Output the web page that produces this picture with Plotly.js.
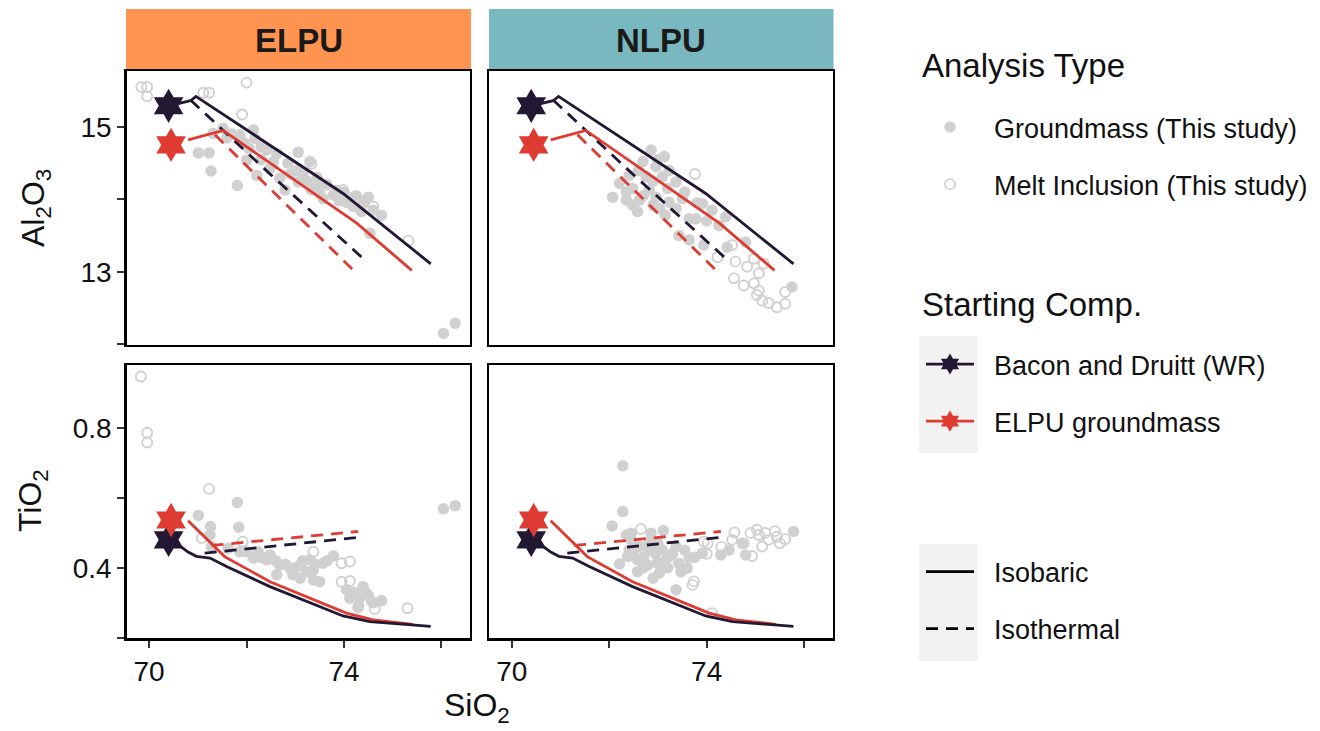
<!DOCTYPE html>
<html>
<head>
<meta charset="utf-8">
<script src="https://cdn.plot.ly/plotly-3.0.1.min.js"></script>
<style>html,body{margin:0;padding:0;background:#fff;}#chart{width:1320px;height:731px;}</style>
</head>
<body>
<div id="chart"></div>
<script>
// ---------------- DATA ----------------
const facets = ["ELPU", "NLPU"];
const seriesNames = ["Groundmass (This study)", "Melt Inclusion (This study)"];
const startNames = ["Bacon and Druitt (WR)", "ELPU groundmass"];
const pathNames = ["Isobaric", "Isothermal"];
const legendTitles = ["Analysis Type", "Starting Comp."];

// ELPU panel, Al2O3 vs SiO2
const elpuGmAlSiO2 = [71.01,71.23,71.27,71.81,71.31,71.52,71.86,72.14,72.17,72.41,72.00,72.21,72.48,72.62,72.68,72.79,73.06,73.30,73.03,73.23,73.33,73.06,73.50,73.78,73.57,74.05,74.19,74.36,74.50,74.60,74.77,74.53,76.04,76.28,71.70,71.95,72.30,72.90,73.45,73.90,74.40,74.25,72.30,72.55,72.85,73.15,73.45,73.65,73.85,74.00,74.15,74.30,72.05,71.60];
const elpuGmAl = [14.64,14.64,14.39,14.19,14.91,14.98,14.89,14.96,14.84,14.68,14.54,14.33,14.43,14.63,14.29,14.13,14.65,14.52,14.40,14.26,14.13,14.24,14.08,14.06,14.01,13.96,13.90,13.83,14.03,13.85,13.78,13.53,12.15,12.29,14.90,14.78,14.55,14.35,14.30,13.98,13.95,14.05,14.72,14.52,14.50,14.35,14.18,14.20,14.12,14.10,14.02,13.88,14.70,14.85];
const elpuMiAlSiO2 = [69.84,69.96,69.96,72.00,71.11,71.23,71.91,73.33,73.44,73.98,74.29,74.60,75.32];
const elpuMiAl = [15.55,15.55,15.42,15.61,15.47,15.47,15.17,14.49,14.19,14.13,13.99,13.90,13.43];

// ELPU panel, TiO2 vs SiO2
const elpuGmTiSiO2 = [71.81,71.01,71.26,71.84,71.25,71.28,71.62,71.86,72.14,72.41,72.68,72.89,72.62,73.10,73.30,73.37,73.57,73.78,73.23,73.50,73.37,74.05,74.39,74.46,74.32,74.57,74.77,74.12,72.24,72.48,72.00,76.04,76.28,72.30,72.60,72.80,73.00,73.15,73.40,73.65,72.95,73.10,74.20,74.50,74.30,74.60];
const elpuGmTi = [0.587,0.550,0.518,0.516,0.494,0.461,0.456,0.446,0.428,0.423,0.408,0.399,0.380,0.408,0.423,0.394,0.413,0.434,0.389,0.360,0.365,0.337,0.346,0.327,0.313,0.303,0.306,0.313,0.446,0.437,0.446,0.569,0.578,0.430,0.420,0.410,0.400,0.420,0.410,0.420,0.380,0.370,0.330,0.320,0.290,0.300];
const elpuMiTiSiO2 = [69.83,69.96,69.96,71.23,71.08,71.92,73.37,73.95,74.12,73.95,74.12,74.29,74.63,75.30];
const elpuMiTi = [0.948,0.787,0.759,0.626,0.485,0.475,0.446,0.413,0.418,0.360,0.362,0.286,0.282,0.284];

// NLPU panel, Al2O3 vs SiO2
const nlpuGmAlSiO2 = [72.86,73.13,72.69,72.96,73.23,72.41,72.76,73.09,73.37,72.21,72.48,72.82,72.07,72.35,72.62,72.96,73.23,73.50,72.48,72.58,73.03,73.37,73.64,73.78,73.91,74.11,74.39,74.25,73.43,73.64,73.94,74.42,74.80,75.75,72.90,73.00,72.60,73.20,72.70,72.90,73.15,72.35,73.55,73.80,74.00];
const nlpuGmAl = [14.68,14.59,14.52,14.45,14.40,14.33,14.31,14.31,14.24,14.22,14.15,14.13,14.03,13.99,13.99,14.03,13.96,14.01,13.92,13.83,13.87,13.87,13.73,13.73,13.94,13.85,13.76,13.64,13.50,13.44,13.37,13.34,13.41,12.79,14.25,14.55,14.40,14.15,14.05,13.92,13.78,14.10,14.10,13.95,13.70];
const nlpuMiAlSiO2 = [73.76,74.52,74.59,74.83,74.97,75.07,74.56,74.76,74.97,75.07,75.03,75.14,75.27,75.44,75.61,75.61,74.22,75.17];
const nlpuMiAl = [14.35,13.37,13.14,13.07,13.18,12.98,12.91,12.81,12.84,12.74,12.68,12.60,12.57,12.51,12.56,12.72,13.20,13.11];

// NLPU panel, TiO2 vs SiO2
const nlpuGmTiSiO2 = [72.28,72.28,72.06,72.35,72.45,72.86,73.11,72.21,72.38,72.58,72.58,72.79,72.99,73.03,73.23,73.43,73.47,73.60,73.64,72.82,73.09,73.37,72.62,72.82,72.41,73.37,73.91,74.29,74.46,74.80,74.73,75.78,72.50,72.70,72.95,73.15,73.30,72.70,72.90,73.20,72.45,73.00,73.55,73.75];
const nlpuGmTi = [0.692,0.561,0.520,0.494,0.499,0.499,0.507,0.411,0.432,0.423,0.389,0.408,0.413,0.385,0.432,0.413,0.389,0.399,0.428,0.451,0.451,0.461,0.461,0.475,0.451,0.337,0.442,0.437,0.451,0.437,0.470,0.504,0.440,0.430,0.440,0.420,0.440,0.400,0.370,0.400,0.480,0.470,0.450,0.430];
const nlpuMiTiSiO2 = [72.65,74.57,75.03,75.07,75.27,75.14,75.44,75.61,74.93,73.94,73.71,73.74,74.11,74.76,74.52,74.02,75.40,74.30,74.90,75.20,75.50,74.00];
const nlpuMiTi = [0.511,0.501,0.509,0.494,0.480,0.461,0.489,0.482,0.434,0.475,0.351,0.361,0.270,0.470,0.480,0.470,0.505,0.460,0.500,0.500,0.470,0.440];

// Starting compositions
const bdStartSiO2 = [70.40];  const bdStartAl = [15.29];  const bdStartTi = [0.480];
const gmStartSiO2 = [70.45];  const gmStartAl = [14.75];  const gmStartTi = [0.537];

// Model paths (same in both facets)
const bdIsobaricAlSiO2 = [70.40,70.85,70.96,73.98,75.78];
const bdIsobaricAl     = [15.29,15.36,15.42,14.08,13.11];
const bdIsothermAlSiO2 = [70.85,72.48,74.43];
const bdIsothermAl     = [15.37,14.35,13.16];
const gmIsobaricAlSiO2 = [70.80,71.52,74.26,75.39];
const gmIsobaricAl     = [14.82,14.95,13.67,13.02];
const gmIsothermAlSiO2 = [71.35,74.05,74.27];
const gmIsothermAl     = [14.89,13.12,12.97];

const bdIsobaricTiSiO2 = [70.40,70.60,70.80,70.97,71.25,71.59,72.48,73.98,74.53,75.78];
const bdIsobaricTi     = [0.480,0.466,0.445,0.433,0.428,0.404,0.346,0.262,0.246,0.232];
const bdIsothermTiSiO2 = [71.14,74.36];
const bdIsothermTi     = [0.442,0.488];
const gmIsobaricTiSiO2 = [70.80,71.31,71.55,72.48,74.05,74.60,75.42];
const gmIsobaricTi     = [0.535,0.466,0.432,0.360,0.270,0.251,0.238];
const gmIsothermTiSiO2 = [71.28,74.29];
const gmIsothermTi     = [0.464,0.504];

// labelled ticks, plus unlabelled minor tick spacing
const xTickVals = [70,74];       const xTickText = ["70","74"];       const xMinorStep = 2;   const xMinorStart = 70;
const alTickVals = [13,15];      const alTickText = ["13","15"];      const alMinorStep = 1;  const alMinorStart = 12;
const tiTickVals = [0.4,0.8];    const tiTickText = ["0.4","0.8"];    const tiMinorStep = 0.2; const tiMinorStart = 0.2;

// ---------------- STYLE ----------------
const FONT = "Liberation Sans, Arial, Helvetica, sans-serif";
const GREY = "#D0D0D0";
const DARK = "#221833";
const RED = "#DE3B32";
const W = 1320, H = 731;
const px = v => v / W, py = v => 1 - v / H;
const LW = 2.8;
const PAD = "\u00a0\u00a0";

const xDomL = [px(126.7), px(470)], xDomR = [px(489.3), px(832.7)];
const yDomT = [py(345), py(71)], yDomB = [py(638.3), py(365)];

const traces = [];
const panels = [
  {xa:"x",  ya:"y",  gx:elpuGmAlSiO2, gy:elpuGmAl, mx:elpuMiAlSiO2, my:elpuMiAl, v:"Al"},
  {xa:"x2", ya:"y2", gx:nlpuGmAlSiO2, gy:nlpuGmAl, mx:nlpuMiAlSiO2, my:nlpuMiAl, v:"Al"},
  {xa:"x3", ya:"y3", gx:elpuGmTiSiO2, gy:elpuGmTi, mx:elpuMiTiSiO2, my:elpuMiTi, v:"Ti"},
  {xa:"x4", ya:"y4", gx:nlpuGmTiSiO2, gy:nlpuGmTi, mx:nlpuMiTiSiO2, my:nlpuMiTi, v:"Ti"}
];
panels.forEach((p, i) => {
  traces.push({type:"scatter", mode:"markers", x:p.gx, y:p.gy, xaxis:p.xa, yaxis:p.ya,
    marker:{color:GREY, size:11.5, line:{width:0}}, name:PAD + seriesNames[0], legend:"legend",
    legendgroup:"gm", showlegend:i===0, hoverinfo:"skip"});
  traces.push({type:"scatter", mode:"markers", x:p.mx, y:p.my, xaxis:p.xa, yaxis:p.ya,
    marker:{color:GREY, size:10, symbol:"circle-open", line:{width:1.9, color:GREY}}, name:PAD + seriesNames[1], legend:"legend",
    legendgroup:"mi", showlegend:i===0, hoverinfo:"skip"});
});
const dashPat = "12px,8px";
panels.forEach((p, i) => {
  const al = p.v === "Al";
  const lines = [
    {x: al?bdIsothermAlSiO2:bdIsothermTiSiO2, y: al?bdIsothermAl:bdIsothermTi, c:DARK, d:dashPat},
    {x: al?gmIsothermAlSiO2:gmIsothermTiSiO2, y: al?gmIsothermAl:gmIsothermTi, c:RED, d:dashPat},
    {x: al?gmIsobaricAlSiO2:gmIsobaricTiSiO2, y: al?gmIsobaricAl:gmIsobaricTi, c:RED, d:"solid"},
    {x: al?bdIsobaricAlSiO2:bdIsobaricTiSiO2, y: al?bdIsobaricAl:bdIsobaricTi, c:DARK, d:"solid"}
  ];
  lines.forEach(l => traces.push({type:"scatter", mode:"lines", x:l.x, y:l.y, xaxis:p.xa, yaxis:p.ya,
    line:{color:l.c, width:LW, dash:l.d}, showlegend:false, hoverinfo:"skip"}));
});
panels.forEach((p, i) => {
  const al = p.v === "Al";
  traces.push({type:"scatter", mode:"lines+markers", x:bdStartSiO2, y: al?bdStartAl:bdStartTi, xaxis:p.xa, yaxis:p.ya,
    marker:{symbol:"hexagram", size:26, color:DARK, line:{width:0}}, line:{color:DARK, width:LW},
    name:PAD + startNames[0], legend:"legend2", legendgroup:"bd", showlegend:i===0, hoverinfo:"skip"});
  traces.push({type:"scatter", mode:"lines+markers", x:gmStartSiO2, y: al?gmStartAl:gmStartTi, xaxis:p.xa, yaxis:p.ya,
    marker:{symbol:"hexagram", size:26, color:RED, line:{width:0}}, line:{color:RED, width:LW},
    name:PAD + startNames[1], legend:"legend2", legendgroup:"egm", showlegend:i===0, hoverinfo:"skip"});
});
traces.push({type:"scatter", mode:"lines", x:[null], y:[null], line:{color:"#000", width:LW, dash:"solid"},
  name:PAD + pathNames[0], legend:"legend3", legendgroup:"isob", hoverinfo:"skip"});
traces.push({type:"scatter", mode:"lines", x:[null], y:[null], line:{color:"#000", width:LW, dash:dashPat},
  name:PAD + pathNames[1], legend:"legend3", legendgroup:"isot", hoverinfo:"skip"});

function xax(dom, anchor, bottom) {
  return {domain:dom, anchor:anchor, range:[69.54, 76.585], showgrid:false, zeroline:false,
    showline:true, mirror:true, linecolor:"#000", linewidth:2.4,
    tickmode:"array", tickvals:xTickVals, ticktext:xTickText,
    ticks: bottom ? "outside" : "", ticklen:7, tickwidth:2, tickcolor:"#333",
    minor: bottom ? {ticks:"outside", tick0:xMinorStart, dtick:xMinorStep, ticklen:7, tickwidth:2, tickcolor:"#333", showgrid:false} : {ticks:""},
    showticklabels:bottom, tickfont:{family:FONT, size:28, color:"#111"}};
}
function yax(dom, anchor, left, isAl) {
  return {domain:dom, anchor:anchor, range: isAl ? [11.99, 15.77] : [0.198, 0.981], showgrid:false, zeroline:false,
    showline:true, mirror:true, linecolor:"#000", linewidth:2.4,
    tickmode:"array", tickvals: isAl ? alTickVals : tiTickVals, ticktext: isAl ? alTickText : tiTickText,
    ticks: left ? "outside" : "", ticklen:7, tickwidth:2, tickcolor:"#333",
    minor: left ? {ticks:"outside", tick0: isAl ? alMinorStart : tiMinorStart, dtick: isAl ? alMinorStep : tiMinorStep,
      ticklen:7, tickwidth:2, tickcolor:"#333", showgrid:false} : {ticks:""},
    showticklabels:left, tickfont:{family:FONT, size:28, color:"#111"}};
}

const legendCommon = {xanchor:"left", yanchor:"top", bgcolor:"rgba(0,0,0,0)", borderwidth:0,
  font:{family:FONT, size:27, color:"#111"}, traceorder:"grouped", tracegroupgap:19, itemwidth:48};

const ann = (text, x, y, size, extra) => Object.assign({text:text, xref:"paper", yref:"paper", x:x, y:y,
  xanchor:"center", yanchor:"middle", showarrow:false, font:{family:FONT, size:size, color:"#111"}}, extra || {});

const layout = {
  width:W, height:H, margin:{l:0, r:0, t:0, b:0},
  paper_bgcolor:"#fff", plot_bgcolor:"#fff",
  font:{family:FONT, color:"#111"},
  xaxis: xax(xDomL, "y", false),
  xaxis2: xax(xDomR, "y2", false),
  xaxis3: xax(xDomL, "y3", true),
  xaxis4: xax(xDomR, "y4", true),
  yaxis: yax(yDomT, "x", true, true),
  yaxis2: yax(yDomT, "x2", false, true),
  yaxis3: yax(yDomB, "x3", true, false),
  yaxis4: yax(yDomB, "x4", false, false),
  legend: Object.assign({}, legendCommon, {x:px(921), y:py(103)}),
  legend2: Object.assign({}, legendCommon, {x:px(921), y:py(340)}),
  legend3: Object.assign({}, legendCommon, {x:px(921), y:py(547.5)}),
  shapes: [
    {type:"rect", xref:"paper", yref:"paper", x0:px(126), x1:px(471), y0:py(69.3), y1:py(9), fillcolor:"#FF9450", line:{width:0}, layer:"below"},
    {type:"rect", xref:"paper", yref:"paper", x0:px(489), x1:px(833.5), y0:py(69.3), y1:py(9), fillcolor:"#78B8BE", line:{width:0}, layer:"below"},
    {type:"rect", xref:"paper", yref:"paper", x0:px(919), x1:px(978), y0:py(453), y1:py(336), fillcolor:"#F2F2F2", line:{width:0}, layer:"below"},
    {type:"rect", xref:"paper", yref:"paper", x0:px(919), x1:px(978), y0:py(661), y1:py(544), fillcolor:"#F2F2F2", line:{width:0}, layer:"below"}
  ],
  annotations: [
    ann("<b>" + facets[0] + "</b>", (px(126)+px(471))/2, py(40), 33, {font:{family:FONT, size:33, color:"#1a1a1a"}}),
    ann("<b>" + facets[1] + "</b>", (px(489)+px(833.5))/2, py(40), 33, {font:{family:FONT, size:33, color:"#1a1a1a"}}),
    ann("SiO<sub>2</sub>", px(477), py(707), 32),
    ann("Al<sub>2</sub>O<sub>3</sub>", px(35), py(208), 32, {textangle:-90}),
    ann("TiO<sub>2</sub>", px(32), py(501), 32, {textangle:-90}),
    ann(legendTitles[0], px(920), py(66), 33, {xanchor:"left"}),
    ann(legendTitles[1], px(920), py(304), 33, {xanchor:"left"})
  ]
};

Plotly.newPlot("chart", traces, layout, {displayModeBar:false, staticPlot:true});
</script>
</body>
</html>
